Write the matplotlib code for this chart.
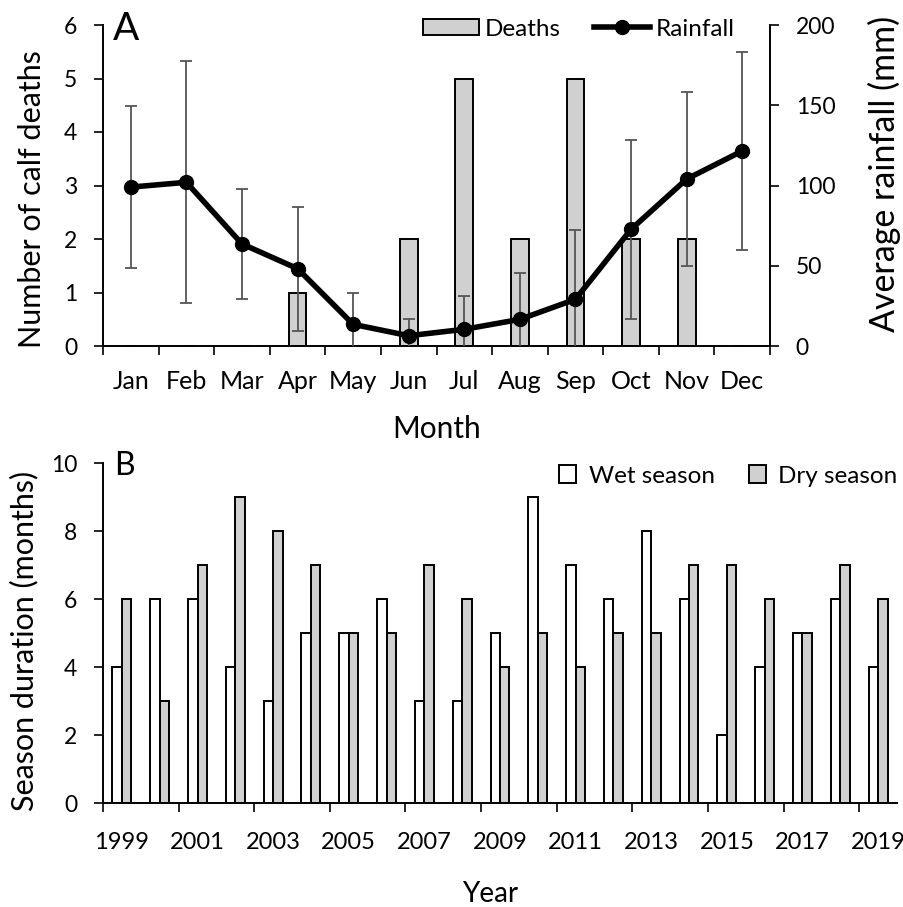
import numpy as np
import matplotlib.pyplot as plt
from matplotlib.ticker import FixedLocator

plt.rcParams['font.family'] = ['Lato', 'DejaVu Sans']

# Panel A data
months = ['Jan', 'Feb', 'Mar', 'Apr', 'May', 'Jun',
          'Jul', 'Aug', 'Sep', 'Oct', 'Nov', 'Dec']
deaths = [0, 0, 0, 1, 0, 2, 5, 2, 5, 2, 2, 0]
rain_mean = [99, 102, 63.6, 48.2, 13.5, 6.4, 10.4, 16.6, 29.1, 72.7, 104, 121.5]
rain_sd = [50.5, 75.5, 34.2, 38.6, 19.3, 10.2, 20.9, 29.1, 43.2, 55.6, 54, 61.8]

# Panel B data
years = list(range(1999, 2020))
wet = [4, 6, 6, 4, 3, 5, 5, 6, 3, 3, 5, 9, 7, 6, 8, 6, 2, 4, 5, 6, 4]
dry = [6, 3, 7, 9, 8, 7, 5, 5, 7, 6, 4, 5, 4, 5, 5, 7, 7, 6, 5, 7, 6]

GREY = '#d0d0d0'
W, H = 904, 907


def style_axis(ax):
    for s in ax.spines.values():
        s.set_linewidth(1.4)
    ax.tick_params(which='major', direction='out', length=6.5, width=1.2,
                   labelsize=16.5, pad=12)


fig = plt.figure(figsize=(W / 100, H / 100), dpi=100)

# ---- Panel A ----
ax1 = fig.add_axes([103 / W, 1 - 346 / H, 667 / W, 321 / H])
x = np.arange(len(months))
bars = ax1.bar(x, deaths, width=0.32, color=GREY, edgecolor='black',
               linewidth=1.4, label='Deaths', zorder=2)
ax1.set_xlim(-0.5, 11.5)
ax1.set_ylim(0, 6)
ax1.set_yticks(range(0, 7))
ax1.xaxis.set_major_locator(FixedLocator(np.arange(-0.5, 12, 1)))
ax1.xaxis.set_minor_locator(FixedLocator(x))
ax1.set_xticklabels([''] * 13)
ax1.set_xticklabels(months, minor=True)
style_axis(ax1)
ax1.tick_params(axis='x', which='minor', length=0, labelsize=18, pad=17)
ax1.spines['top'].set_visible(False)
ax1.spines['right'].set_visible(False)

ax2 = ax1.twinx()
ax2.errorbar(x, rain_mean, yerr=rain_sd, fmt='none', ecolor='#555555',
             elinewidth=1.3, capsize=4.5, capthick=1.3, zorder=2)
line, = ax2.plot(x, rain_mean, color='black', lw=4, marker='o', ms=10,
                 label='Rainfall', zorder=3)
ax2.set_ylim(0, 200)
ax2.set_yticks(range(0, 201, 50))
style_axis(ax2)
for s in ['top', 'left', 'bottom']:
    ax2.spines[s].set_visible(False)

ax1.legend([bars, line], ['Deaths', 'Rainfall'], ncol=2, frameon=False,
           loc='center right', bbox_to_anchor=(735 / W, 1 - 29 / H),
           bbox_transform=fig.transFigure, borderaxespad=0, borderpad=0,
           fontsize=17.5, handlelength=2.3, handleheight=0.6,
           handletextpad=0.25, columnspacing=1.35)

fig.text(113 / W, 1 - 39.5 / H, 'A', fontsize=28, va='baseline', ha='left')
fig.text(437 / W, 1 - 438 / H, 'Month', fontsize=21.5, va='baseline', ha='center')
fig.text(32 / W, 1 - 199 / H, 'Number of calf deaths', fontsize=22,
         rotation=90, va='center', ha='center')
fig.text(884 / W, 1 - 174 / H, 'Average rainfall (mm)', fontsize=24.5,
         rotation=90, va='center', ha='center')

# ---- Panel B ----
ax3 = fig.add_axes([103 / W, 1 - 803 / H, 794 / W, 340 / H])
xb = np.arange(len(years))
bw = 0.25
b_wet = ax3.bar(xb - bw / 2, wet, width=bw, color='white', edgecolor='black',
                linewidth=1.4, label='Wet season')
b_dry = ax3.bar(xb + bw / 2, dry, width=bw, color=GREY, edgecolor='black',
                linewidth=1.4, label='Dry season')
ax3.set_xlim(-0.5, len(years) - 0.5)
ax3.set_ylim(0, 10)
ax3.set_yticks(range(0, 11, 2))
ax3.xaxis.set_major_locator(FixedLocator(np.arange(-0.5, len(years), 2)))
ax3.xaxis.set_minor_locator(FixedLocator(xb[::2]))
ax3.set_xticklabels([''] * len(np.arange(-0.5, len(years), 2)))
ax3.set_xticklabels([str(y) for y in years[::2]], minor=True)
style_axis(ax3)
ax3.tick_params(axis='x', which='minor', length=0, labelsize=17, pad=21)
ax3.spines['top'].set_visible(False)
ax3.spines['right'].set_visible(False)

ax3.legend([b_wet, b_dry], ['Wet season', 'Dry season'], ncol=2, frameon=False,
           loc='center right', bbox_to_anchor=(897 / W, 1 - 476 / H),
           bbox_transform=fig.transFigure, borderaxespad=0, borderpad=0,
           fontsize=17.5, handlelength=0.7, handleheight=0.7,
           handletextpad=0.5, columnspacing=1.4)

fig.text(114 / W, 1 - 475 / H, 'B', fontsize=23, va='baseline', ha='left')
fig.text(490 / W, 1 - 902 / H, 'Year', fontsize=20, va='baseline', ha='center')
fig.text(24 / W, 1 - 641 / H, 'Season duration (months)', fontsize=22,
         rotation=90, va='center', ha='center')

fig.savefig('out.png', dpi=100)
